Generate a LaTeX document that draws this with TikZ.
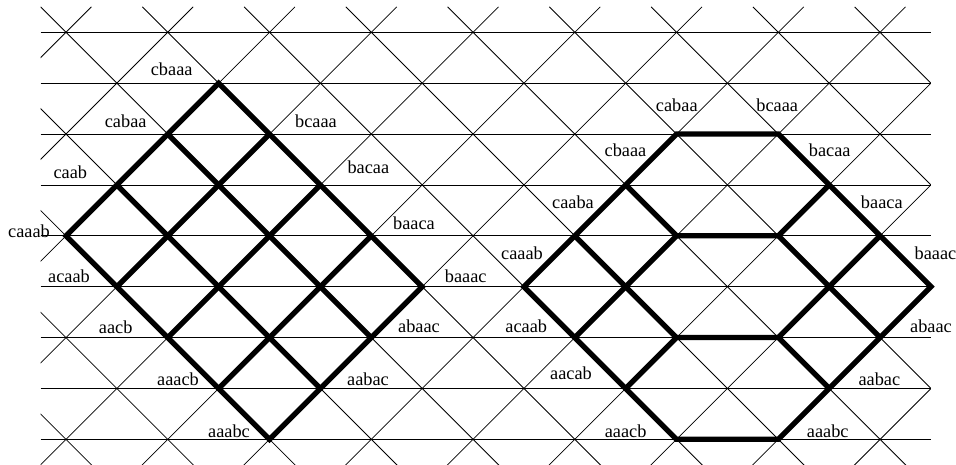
\documentclass[tikz,border=0pt]{standalone}
\usepackage{fontspec}
\setmainfont{Liberation Serif}
\newfontfamily\labfont{Liberation Serif}
\begin{document}
\begin{tikzpicture}[x=50.88pt,y=-50.88pt,
  gridline/.style={line width=0.8pt, black},
  thickedge/.style={line width=5.3pt, black, line join=miter, line cap=butt},
  lab/.style={inner sep=0pt, font=\labfont\fontsize{18.3}{20}\selectfont}]
\useasboundingbox (-1.2972,-0.6348) rectangle (17.492,8.504);
\foreach \m in {0,...,17} \foreach \k in {0,...,8} \coordinate (p\m-\k) at (\m,\k);
% background grid
\begin{scope}
\clip (-0.5,-0.5) rectangle (17,8.5);
\foreach \k in {0,...,8} \draw[gridline] (-0.5,\k) -- (17,\k);
\foreach \c in {-10,-8,...,18} \draw[gridline] (\c-0.5,-0.5) -- (\c+9,9);
\foreach \c in {0,2,...,28} \draw[gridline] (\c+0.5,-0.5) -- (\c-9,9);
\end{scope}
% left figure
\draw[thickedge] (p3-1) -- (p7-5) -- (p4-8) -- (p0-4) -- cycle;
\draw[thickedge] (p4-2) -- (p1-5);
\draw[thickedge] (p5-3) -- (p2-6);
\draw[thickedge] (p6-4) -- (p3-7);
\draw[thickedge] (p2-2) -- (p6-6);
\draw[thickedge] (p1-3) -- (p5-7);
% right figure
\draw[thickedge] (p12-2) -- (p14-2) -- (p17-5) -- (p14-8) -- (p12-8) -- (p9-5) -- cycle;
\draw[thickedge] (p11-3) -- (p12-4) -- (p14-4) -- (p15-3);
\draw[thickedge] (p11-7) -- (p12-6) -- (p14-6) -- (p15-7);
\draw[thickedge] (p10-4) -- (p12-6);
\draw[thickedge] (p12-4) -- (p10-6);
\draw[thickedge] (p14-4) -- (p16-6);
\draw[thickedge] (p16-4) -- (p14-6);
% labels (pixel coordinates)
\begin{scope}[shift={(-66pt,32.3pt)}, x=1pt, y=-1pt]
\node[lab,anchor=base east] (l1) at (192.7,76) {cbaaa};
\node[lab,anchor=base east] (l2) at (146.7,127.3) {cabaa};
\node[lab,anchor=base east] (l3) at (87.3,178.3) {caab};
\node[lab,anchor=base east] (l4) at (50,237.3) {caaab};
\node[lab,anchor=base east] (l5) at (90,282.7) {acaab};
\node[lab,anchor=base east] (l6) at (132.7,333.3) {aacb};
\node[lab,anchor=base east] (l7) at (199,385) {aaacb};
\node[lab,anchor=base east] (l8) at (250,437.7) {aaabc};
\node[lab,anchor=base west] (l9) at (295,127.3) {bcaaa};
\node[lab,anchor=base west] (l10) at (347.3,173.3) {bacaa};
\node[lab,anchor=base west] (l11) at (393,230) {baaca};
\node[lab,anchor=base west] (l12) at (444.7,282.7) {baaac};
\node[lab,anchor=base west] (l13) at (398,332.3) {abaac};
\node[lab,anchor=base west] (l14) at (347,385) {aabac};
\node[lab,anchor=base] (r1) at (676.8,111.7) {cabaa};
\node[lab,anchor=base] (r2) at (777.2,111.7) {bcaaa};
\node[lab,anchor=base] (r3) at (829.7,156.7) {bacaa};
\node[lab,anchor=base] (r4) at (881.8,208.3) {baaca};
\node[lab,anchor=base west] (r5) at (914.5,259.3) {baaac};
\node[lab,anchor=base west] (r6) at (910,332.3) {abaac};
\node[lab,anchor=base west] (r7) at (858.3,385) {aabac};
\node[lab,anchor=base west] (r8) at (806.7,437.7) {aaabc};
\node[lab,anchor=base east] (r9) at (646.7,437.7) {aaacb};
\node[lab,anchor=base east] (r10) at (592,379) {aacab};
\node[lab,anchor=base east] (r11) at (547.3,332.3) {acaab};
\node[lab,anchor=base] (r12) at (522,259.3) {caaab};
\node[lab,anchor=base] (r13) at (573,208.3) {caaba};
\node[lab,anchor=base] (r14) at (625.5,157) {cbaaa};
\end{scope}
\end{tikzpicture}
\end{document}
